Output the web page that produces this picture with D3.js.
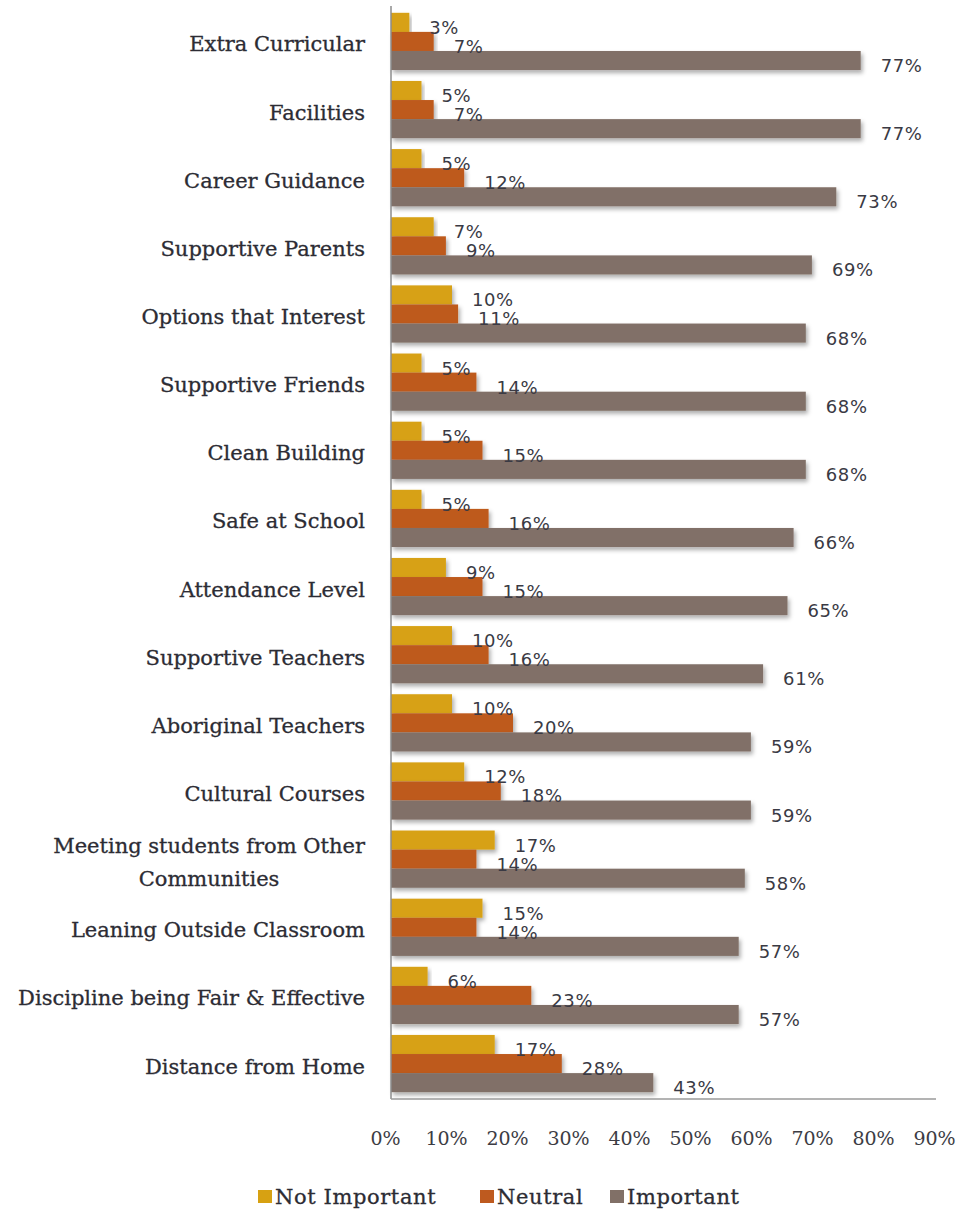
<!DOCTYPE html>
<html>
<head>
<meta charset="utf-8">
<script src="https://cdn.jsdelivr.net/npm/d3@7"></script>
<style>
  html, body { margin: 0; padding: 0; background: #ffffff; }
  svg { display: block; }
</style>
</head>
<body>
<div id="chart"></div>
<script>
// Survey: what matters when choosing a school (share of responses)
const categories = [
  "Extra Curricular",
  "Facilities",
  "Career Guidance",
  "Supportive Parents",
  "Options that Interest",
  "Supportive Friends",
  "Clean Building",
  "Safe at School",
  "Attendance Level",
  "Supportive Teachers",
  "Aboriginal Teachers",
  "Cultural Courses",
  "Meeting students from Other Communities",
  "Leaning Outside Classroom",
  "Discipline being Fair & Effective",
  "Distance from Home"
];
const seriesNames = ["Not Important", "Neutral", "Important"];
const notImportant = [3, 5, 5, 7, 10, 5, 5, 5, 9, 10, 10, 12, 17, 15, 6, 17];
const neutral      = [7, 7, 12, 9, 11, 14, 15, 16, 15, 16, 20, 18, 14, 14, 23, 28];
const important    = [77, 77, 73, 69, 68, 68, 68, 66, 65, 61, 59, 59, 58, 57, 57, 43];
const tickValues   = [0, 10, 20, 30, 40, 50, 60, 70, 80, 90];

const seriesValues = [notImportant, neutral, important];
const colors = ["#D7A112", "#BE5A1F", "#817067"];

const W = 962, H = 1214;
const plotLeft = 391, plotRight = 940, plotTop = 6, plotBottom = 1099;

const svg = d3.select("#chart").append("svg")
  .attr("width", W).attr("height", H)
  .attr("viewBox", `0 0 ${W} ${H}`);

svg.append("rect").attr("width", W).attr("height", H).attr("fill", "#ffffff");

const defs = svg.append("defs");
const shadow = defs.append("filter").attr("id", "barShadow")
  .attr("x", "-5%").attr("y", "-30%").attr("width", "115%").attr("height", "190%");
shadow.append("feDropShadow")
  .attr("dx", 2).attr("dy", 3).attr("stdDeviation", 2)
  .attr("flood-color", "#000").attr("flood-opacity", 0.32);

const x = d3.scaleLinear().domain([0, 90]).range([plotLeft, plotRight]);
const y = d3.scaleBand().domain(categories).range([plotTop, plotBottom])
  .paddingInner(0.16).paddingOuter(0.1);
const ySub = d3.scaleBand().domain(seriesNames).range([0, y.bandwidth()]);

const rows = categories.map((c, i) => ({
  category: c,
  values: seriesNames.map((s, k) => ({ series: s, k, value: seriesValues[k][i] }))
}));

// Bars
const groups = svg.append("g").selectAll("g.row")
  .data(rows).join("g")
  .attr("class", "row")
  .attr("transform", d => `translate(0,${y(d.category)})`);

groups.selectAll("rect")
  .data(d => d.values).join("rect")
  .attr("x", x(0))
  .attr("y", d => ySub(d.series))
  .attr("width", d => x(d.value) - x(0))
  .attr("height", ySub.bandwidth())
  .attr("fill", d => colors[d.k])
  .attr("filter", "url(#barShadow)");

// Value labels
groups.selectAll("text.val")
  .data(d => d.values).join("text")
  .attr("class", "val")
  .attr("x", d => x(d.value) + 20)
  .attr("y", d => ySub(d.series) + ySub.bandwidth() / 2 + 5)
  .attr("dominant-baseline", "central")
  .attr("font-family", "'DejaVu Sans', Verdana, sans-serif")
  .attr("font-size", 18)
  .attr("letter-spacing", 0.6)
  .attr("fill", "#3a3a44")
  .text(d => d.value + "%");

// Axis lines
svg.append("line")
  .attr("x1", plotLeft).attr("x2", plotLeft)
  .attr("y1", plotTop).attr("y2", plotBottom)
  .attr("stroke", "#8c8c8c").attr("stroke-width", 1.5);
svg.append("line")
  .attr("x1", plotLeft).attr("x2", plotRight - 4)
  .attr("y1", plotBottom).attr("y2", plotBottom)
  .attr("stroke", "#9a9a9a").attr("stroke-width", 1.5);

// Category labels (wrapped, right-aligned block, centred lines)
const serif = "'DejaVu Serif', 'Liberation Serif', serif";
const textInk = "#2c2c34";
const labelRight = 365;
const maxLabelWidth = 360;
const lineHeight = 33;

const measure = svg.append("text")
  .attr("font-family", serif).attr("font-size", 21)
  .attr("visibility", "hidden");
function textWidth(s) {
  measure.text(s);
  return measure.node().getComputedTextLength();
}
function wrap(s) {
  const words = s.split(" ");
  const lines = [];
  let line = "";
  words.forEach(w => {
    const trial = line ? line + " " + w : w;
    if (line && textWidth(trial) > maxLabelWidth) {
      lines.push(line);
      line = w;
    } else {
      line = trial;
    }
  });
  if (line) lines.push(line);
  return lines;
}

const labelG = svg.append("g")
  .attr("font-family", serif)
  .attr("font-size", 21)
  .attr("fill", textInk)
  .attr("stroke", textInk)
  .attr("stroke-width", 0.3);

categories.forEach(c => {
  const lines = wrap(c);
  const cy = y(c) + y.bandwidth() / 2 + 3;
  const widths = lines.map(textWidth);
  const maxW = d3.max(widths);
  const t = labelG.append("text")
    .attr("dominant-baseline", "central");
  if (lines.length === 1) {
    t.attr("text-anchor", "end").attr("x", labelRight).attr("y", cy).text(c);
  } else {
    const cx = labelRight - maxW / 2;
    const y0 = cy - (lines.length - 1) * lineHeight / 2;
    t.attr("text-anchor", "middle");
    lines.forEach((ln, i) => {
      t.append("tspan").attr("x", cx).attr("y", y0 + i * lineHeight).text(ln);
    });
  }
});
measure.remove();

// Bottom tick labels
const xAxis = d3.axisBottom(x)
  .tickValues(tickValues)
  .tickSize(0)
  .tickPadding(30)
  .tickFormat(d => d + "%");
const axG = svg.append("g")
  .attr("transform", `translate(0,${plotBottom})`)
  .call(xAxis);
axG.select(".domain").remove();
axG.selectAll("text")
  .attr("font-family", serif)
  .attr("font-size", 19)
  .attr("fill", "#3c3c44")
  .attr("dx", -6)
  .attr("dy", 0)
  .attr("dominant-baseline", "central")
  .attr("y", 39);

// Legend
const legendX = [258, 480, 610];
const legend = svg.append("g")
  .attr("font-family", serif).attr("font-size", 21)
  .attr("fill", textInk).attr("stroke", textInk).attr("stroke-width", 0.3);
seriesNames.forEach((s, k) => {
  legend.append("rect")
    .attr("x", legendX[k]).attr("y", 1190)
    .attr("width", 14).attr("height", 13)
    .attr("fill", colors[k]).attr("stroke", "none");
  legend.append("text")
    .attr("x", legendX[k] + 17).attr("y", 1197)
    .attr("dominant-baseline", "central")
    .attr("letter-spacing", 0.6)
    .text(s);
});
</script>
</body>
</html>
